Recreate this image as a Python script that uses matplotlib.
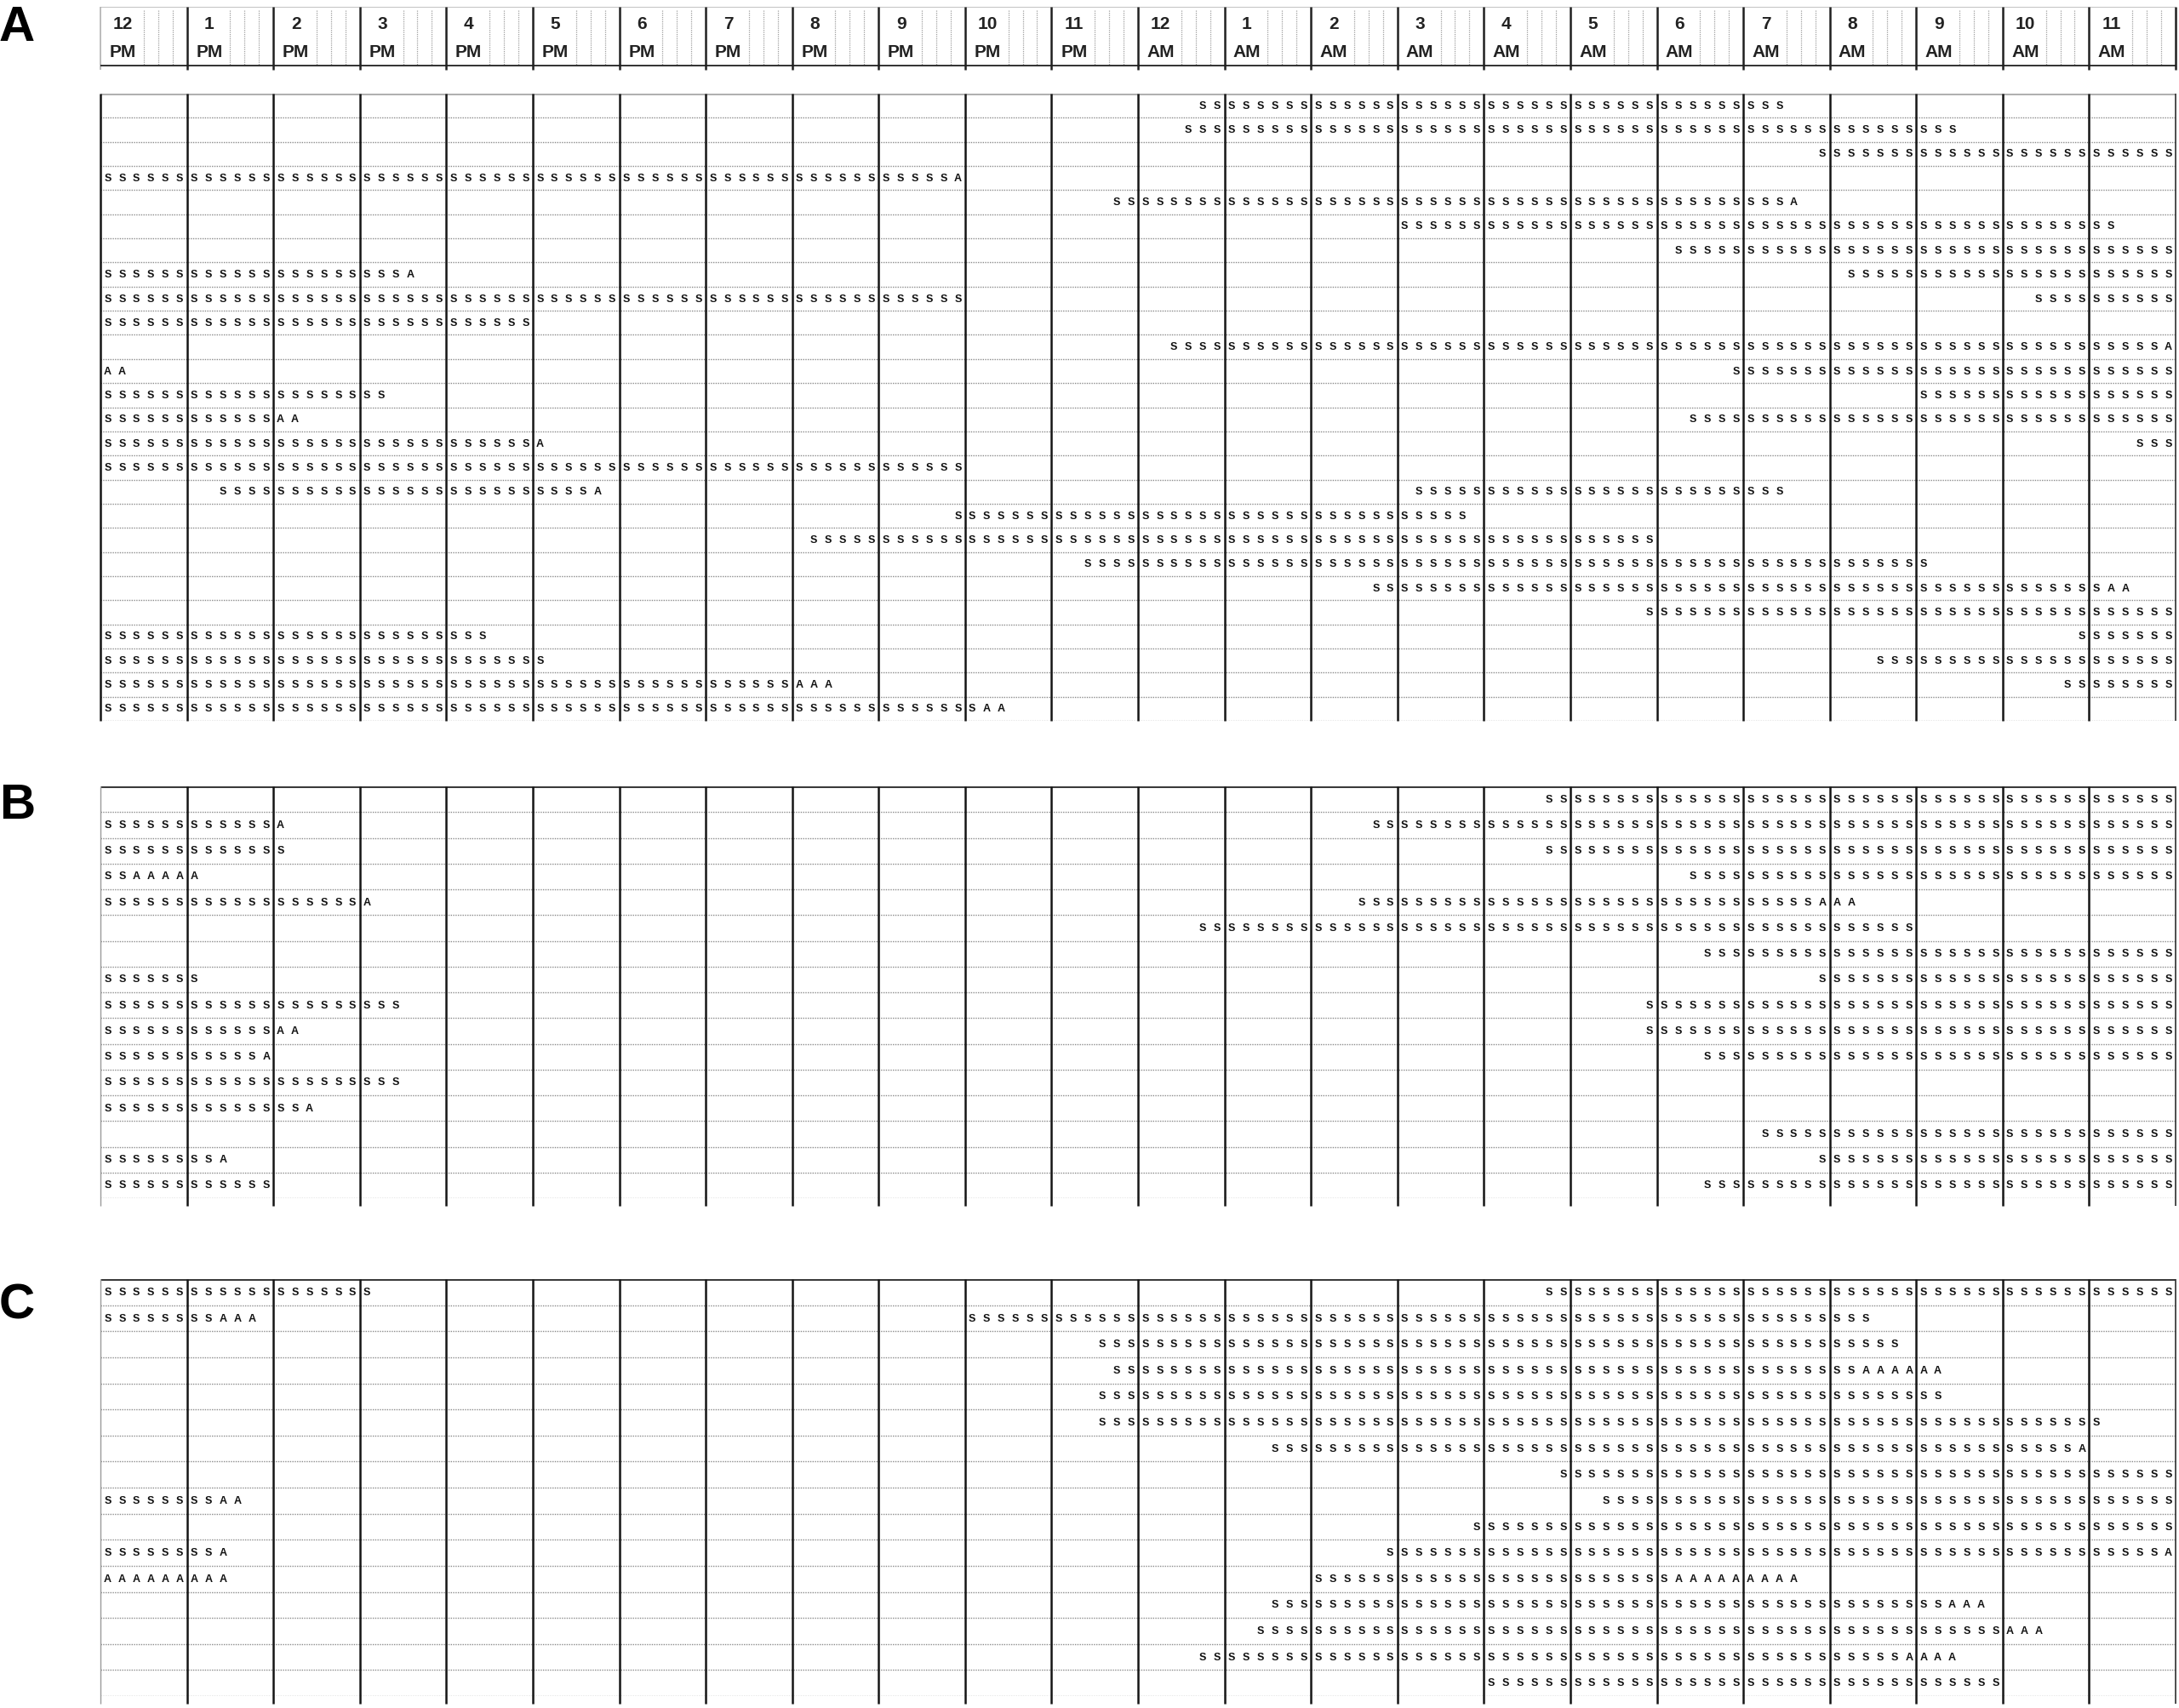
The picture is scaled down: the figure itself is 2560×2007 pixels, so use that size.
import matplotlib
matplotlib.use("Agg")
import matplotlib.pyplot as plt

# hour header labels
hour_labels = ["12", "1", "2", "3", "4", "5", "6", "7", "8", "9", "10", "11",
               "12", "1", "2", "3", "4", "5", "6", "7", "8", "9", "10", "11"]
period_labels = ["PM"] * 12 + ["AM"] * 12

# each row: runs of (first 10-min slot, last slot, code); slot 0 = 12:00 PM
panel_a_rows = [
    [(76, 116, "S")],
    [(75, 128, "S")],
    [(119, 143, "S")],
    [(0, 58, "S"), (59, 59, "A")],
    [(70, 116, "S"), (117, 117, "A")],
    [(90, 139, "S")],
    [(109, 143, "S")],
    [(0, 20, "S"), (21, 21, "A"), (121, 143, "S")],
    [(0, 59, "S"), (134, 143, "S")],
    [(0, 29, "S")],
    [(74, 142, "S"), (143, 143, "A")],
    [(0, 1, "A"), (113, 143, "S")],
    [(0, 19, "S"), (126, 143, "S")],
    [(0, 11, "S"), (12, 13, "A"), (110, 143, "S")],
    [(0, 29, "S"), (30, 30, "A"), (141, 143, "S")],
    [(0, 59, "S")],
    [(8, 33, "S"), (34, 34, "A"), (91, 116, "S")],
    [(59, 94, "S")],
    [(49, 107, "S")],
    [(68, 126, "S")],
    [(88, 138, "S"), (139, 140, "A")],
    [(107, 143, "S")],
    [(0, 26, "S"), (137, 143, "S")],
    [(0, 30, "S"), (123, 143, "S")],
    [(0, 47, "S"), (48, 50, "A"), (136, 143, "S")],
    [(0, 60, "S"), (61, 62, "A")],
]

panel_b_rows = [
    [(100, 143, "S")],
    [(0, 11, "S"), (12, 12, "A"), (88, 143, "S")],
    [(0, 12, "S"), (100, 143, "S")],
    [(0, 1, "S"), (2, 6, "A"), (110, 143, "S")],
    [(0, 17, "S"), (18, 18, "A"), (87, 118, "S"), (119, 121, "A")],
    [(76, 125, "S")],
    [(111, 143, "S")],
    [(0, 6, "S"), (119, 143, "S")],
    [(0, 20, "S"), (107, 143, "S")],
    [(0, 11, "S"), (12, 13, "A"), (107, 143, "S")],
    [(0, 10, "S"), (11, 11, "A"), (111, 143, "S")],
    [(0, 20, "S")],
    [(0, 13, "S"), (14, 14, "A")],
    [(115, 143, "S")],
    [(0, 7, "S"), (8, 8, "A"), (119, 143, "S")],
    [(0, 11, "S"), (111, 143, "S")],
]

panel_c_rows = [
    [(0, 18, "S"), (100, 143, "S")],
    [(0, 7, "S"), (8, 10, "A"), (60, 122, "S")],
    [(69, 124, "S")],
    [(70, 121, "S"), (122, 127, "A")],
    [(69, 127, "S")],
    [(69, 138, "S")],
    [(81, 136, "S"), (137, 137, "A")],
    [(101, 143, "S")],
    [(0, 7, "S"), (8, 9, "A"), (104, 143, "S")],
    [(95, 143, "S")],
    [(0, 7, "S"), (8, 8, "A"), (89, 142, "S"), (143, 143, "A")],
    [(0, 8, "A"), (84, 108, "S"), (109, 117, "A")],
    [(81, 127, "S"), (128, 130, "A")],
    [(80, 131, "S"), (132, 134, "A")],
    [(76, 124, "S"), (125, 128, "A")],
    [(96, 131, "S")],
]

W, H = 2560, 2007
X0, X1 = 118, 2556
FONT = "Liberation Sans"

fig = plt.figure(figsize=(W / 100, H / 100), dpi=100)
fig.patch.set_facecolor("white")


def px_axes(x0, y0, x1, y1):
    return fig.add_axes([x0 / W, 1 - y1 / H, (x1 - x0) / W, (y1 - y0) / H])


def draw_panel(ax, rows, left_color, left_lw, top_color, extend):
    n = len(rows)
    ax.set_xlim(0, 24)
    ax.set_ylim(n, 0)
    ax.axis("off")
    ax.hlines(range(1, n + 1), 0, 24, colors="#8c8c8c", linestyles=(0, (1, 1)), lw=1.0)
    ax.hlines(0, 0, 24, colors=top_color, lw=2.2)
    ax.vlines(range(1, 24), 0, n + extend, colors="#151515", lw=1.8, clip_on=False)
    ax.vlines(0, 0, n + extend, colors=left_color, lw=left_lw, clip_on=False)
    ax.vlines(24, 0, n + extend, colors="#303030", lw=1.2, clip_on=False)
    for r, runs in enumerate(rows):
        for first, last, code in runs:
            for k in range(first, last + 1):
                ax.text(k / 6 + 1 / 12, r + 0.52, code, ha="center", va="center",
                        fontsize=9, fontweight="bold", family=FONT, color="#111111")


# header with hour labels
hax = px_axes(X0, 8, X1, 78)
hax.set_xlim(0, 24)
hax.set_ylim(1, 0)
hax.axis("off")
for h in range(24):
    hax.vlines([h + 3 / 6, h + 4 / 6, h + 5 / 6], 0.05, 1, colors="#a0a0a0",
               linestyles=(0, (1, 1)), lw=0.9)
hax.hlines(0, 0, 24, colors="#b8b8b8", lw=1.2)
hax.vlines(range(1, 25), 0, 1.06, colors="#202020", lw=1.8, clip_on=False)
hax.vlines(0, 0, 1.06, colors="#b0b0b0", lw=1.2, clip_on=False)
hax.hlines(1, 0, 24, colors="#202020", lw=2.6)
for h, (num, per) in enumerate(zip(hour_labels, period_labels)):
    hax.text(h + 0.26, 0.3, num, ha="center", va="center", fontsize=15,
             fontweight="bold", family=FONT, color="#222222")
    hax.text(h + 0.26, 0.76, per, ha="center", va="center", fontsize=15,
             fontweight="bold", family=FONT, color="#222222")

ax_a = px_axes(X0, 110, X1, 847)
draw_panel(ax_a, panel_a_rows, "#151515", 1.8, "#b0b0b0", 0.0)

ax_b = px_axes(X0, 924, X1, 1408)
draw_panel(ax_b, panel_b_rows, "#9a9a9a", 1.0, "#3a3a3a", 0.3)

ax_c = px_axes(X0, 1503, X1, 1993)
draw_panel(ax_c, panel_c_rows, "#9a9a9a", 1.0, "#3a3a3a", 0.3)

for label, ypx in [("A", 33), ("B", 947), ("C", 1535)]:
    fig.text(20 / W, 1 - ypx / H, label, ha="center", va="center", fontsize=42,
             fontweight="bold", family=FONT, color="black")

fig.savefig("out.png", dpi=100, facecolor="white")
